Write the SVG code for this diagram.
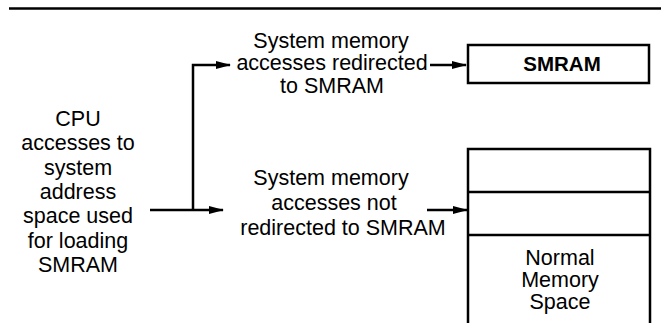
<svg xmlns="http://www.w3.org/2000/svg" width="661" height="323" viewBox="0 0 661 323">
<defs>
<style>
text{font-family:"Liberation Sans",Arial,sans-serif;font-size:21.5px;fill:#000;text-anchor:middle}
.b{font-weight:bold;font-size:20.5px}
.box{fill:none;stroke:#000;stroke-width:2.5}
.ln{fill:none;stroke:#000;stroke-width:2.5}
.c{fill:none;stroke:#000;stroke-width:2.5}
</style>
<marker id="ah" markerWidth="15" markerHeight="10" refX="14" refY="5" orient="auto" markerUnits="userSpaceOnUse">
<path d="M0,1 L15,5 L0,9 Z" fill="#000"/>
</marker>
</defs>
<line class="ln" x1="9" y1="8.5" x2="661" y2="8.5" stroke-width="2"/>
<g id="cpu">
<text x="78" y="126">CPU</text>
<text x="78" y="150">accesses to</text>
<text x="78" y="175">system</text>
<text x="78" y="199">address</text>
<text x="78" y="223">space used</text>
<text x="78" y="248">for loading</text>
<text x="78" y="272">SMRAM</text>
</g>
<g id="redirected">
<text x="331" y="48">System memory</text>
<text x="332" y="70">accesses redirected</text>
<text x="332" y="93">to SMRAM</text>
</g>
<g id="notredirected">
<text x="331" y="185">System memory</text>
<text x="334" y="210">accesses not</text>
<text x="343" y="235">redirected to SMRAM</text>
</g>
<g id="smram">
<rect class="box" x="468" y="45" width="181" height="38"/>
<text class="b" x="562" y="71">SMRAM</text>
</g>
<g id="memory">
<path class="box" d="M468,323 V149 H650 V323"/>
<line class="box" x1="468" y1="192" x2="650" y2="192"/>
<line class="box" x1="468" y1="235" x2="650" y2="235"/>
<text x="560" y="265">Normal</text>
<text x="560" y="287">Memory</text>
<text x="560" y="309">Space</text>
</g>
<g id="connectors">
<line class="c" x1="150" y1="210" x2="223" y2="210" marker-end="url(#ah)"/>
<polyline class="c" points="193,210 193,65 230,65" marker-end="url(#ah)"/>
<line class="c" x1="430" y1="65" x2="466" y2="65" marker-end="url(#ah)"/>
<line class="c" x1="427" y1="210" x2="467" y2="210" marker-end="url(#ah)"/>
</g>
</svg>
